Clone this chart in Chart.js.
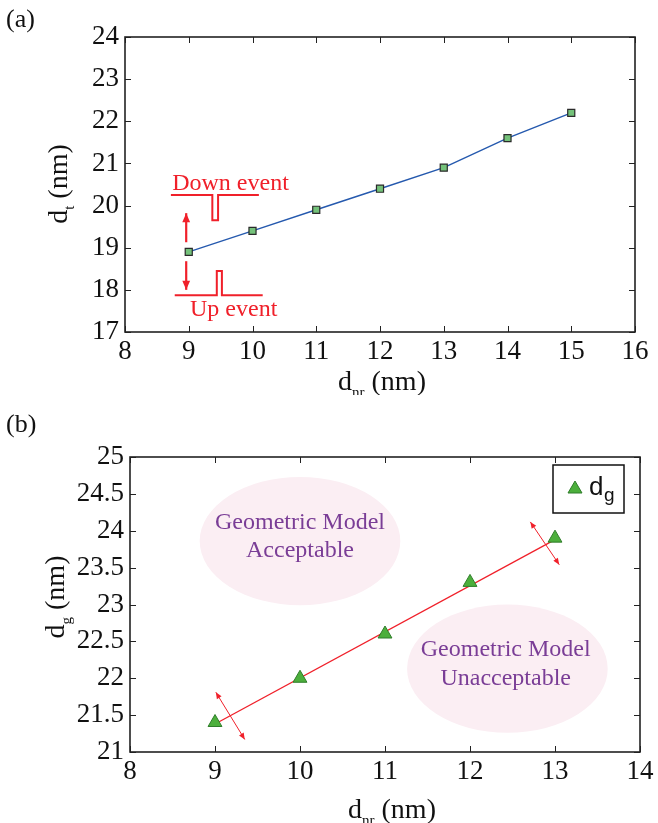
<!DOCTYPE html>
<html>
<head>
<meta charset="utf-8">
<script src="https://cdn.jsdelivr.net/npm/chart.js@4/dist/chart.umd.min.js"></script>
<style>
  body { margin: 0; background: #fff; width: 658px; height: 823px; position: relative; overflow: hidden; }
  .box { position: absolute; left: 0; width: 658px; }
  #boxA { top: 0; height: 395px; }
  #boxB { top: 395px; height: 428px; }
</style>
</head>
<body>
<div class="box" id="boxA"><canvas id="chartA"></canvas></div>
<div class="box" id="boxB"><canvas id="chartB"></canvas></div>
<script>
// panel (a): d_t against d_nr
const nrA = [9, 10, 11, 12, 13, 14, 15];
const dT = [18.9, 19.4, 19.9, 20.4, 20.9, 21.6, 22.2];

// panel (b): d_g against d_nr, with the straight fit through it
const nrB = [9, 10, 11, 12, 13];
const dG = [21.4, 22.0, 22.6, 23.3, 23.9];
const fitX = [9, 13];
const fitY = [21.38, 23.88];

const SERIF = '"Liberation Serif", "Times New Roman", serif';
const SANS = '"Liberation Sans", Arial, sans-serif';
const RED = '#f0202a';
const PURPLE = '#7a3d96';

// draws "d" + subscript + " (nm)" centred on (cx, baseline)
function subTitle(ctx, sub, cx, cy, rot) {
  ctx.save();
  ctx.translate(cx, cy);
  if (rot) ctx.rotate(-Math.PI / 2);
  ctx.fillStyle = '#111';
  ctx.textBaseline = 'alphabetic';
  ctx.font = '28px ' + SERIF;
  const w1 = ctx.measureText('d').width;
  const w3 = ctx.measureText(' (nm)').width;
  ctx.font = '15px ' + SERIF;
  const w2 = ctx.measureText(sub).width;
  let x = -(w1 + w2 + w3) / 2;
  ctx.font = '28px ' + SERIF;
  ctx.fillText('d', x, 0);
  ctx.font = '15px ' + SERIF;
  ctx.fillText(sub, x + w1, 7);
  ctx.font = '28px ' + SERIF;
  ctx.fillText(' (nm)', x + w1 + w2, 0);
  ctx.restore();
}

function arrow(ctx, x1, y1, x2, y2, head, both) {
  const a = Math.atan2(y2 - y1, x2 - x1);
  ctx.beginPath();
  ctx.moveTo(x1, y1);
  ctx.lineTo(x2, y2);
  ctx.stroke();
  const tip = (x, y, ang) => {
    ctx.beginPath();
    ctx.moveTo(x, y);
    ctx.lineTo(x - head * Math.cos(ang - 0.4), y - head * Math.sin(ang - 0.4));
    ctx.lineTo(x - head * Math.cos(ang + 0.4), y - head * Math.sin(ang + 0.4));
    ctx.closePath();
    ctx.fill();
  };
  tip(x2, y2, a);
  if (both) tip(x1, y1, a + Math.PI);
}

// box round the plot and matlab style inward ticks
const frame = {
  id: 'frame',
  afterDatasetsDraw(chart) {
    const { ctx, chartArea: a, scales: { x, y } } = chart;
    ctx.save();
    ctx.strokeStyle = '#222';
    ctx.lineWidth = 1;
    ctx.beginPath();
    x.ticks.forEach(t => {
      const p = Math.round(x.getPixelForValue(t.value)) + 0.5;
      ctx.moveTo(p, a.bottom); ctx.lineTo(p, a.bottom - 6);
      ctx.moveTo(p, a.top); ctx.lineTo(p, a.top + 6);
    });
    y.ticks.forEach(t => {
      const p = Math.round(y.getPixelForValue(t.value)) + 0.5;
      ctx.moveTo(a.left, p); ctx.lineTo(a.left + 6, p);
      ctx.moveTo(a.right, p); ctx.lineTo(a.right - 6, p);
    });
    ctx.stroke();
    ctx.lineWidth = 1.6;
    ctx.strokeRect(a.left, a.top, a.right - a.left, a.bottom - a.top);
    ctx.restore();
  }
};

function axes(xmin, xmax, ymin, ymax, step, yw, xh) {
  return {
    x: {
      type: 'linear', min: xmin, max: xmax,
      ticks: { stepSize: 1, color: '#111', padding: 4, font: { family: SERIF, size: 27 } },
      grid: { display: false, drawTicks: false },
      border: { display: false },
      afterFit: s => { s.height = xh; }
    },
    y: {
      type: 'linear', min: ymin, max: ymax,
      ticks: { stepSize: step, color: '#111', padding: 6, font: { family: SERIF, size: 27 },
        callback: v => String(v) },
      grid: { display: false, drawTicks: false },
      border: { display: false },
      afterFit: s => { s.width = yw; }
    }
  };
}

// ---------- (a) ----------
const decoA = {
  id: 'decoA',
  afterDraw(chart) {
    const { ctx, scales: { x, y } } = chart;
    const X = v => x.getPixelForValue(v), Y = v => y.getPixelForValue(v);
    ctx.save();
    ctx.strokeStyle = RED;
    ctx.fillStyle = RED;
    ctx.lineWidth = 2;
    // down event pulse
    ctx.beginPath();
    ctx.moveTo(X(8.72), Y(20.25)); ctx.lineTo(X(9.37), Y(20.25));
    ctx.lineTo(X(9.37), Y(19.65)); ctx.lineTo(X(9.46), Y(19.65));
    ctx.lineTo(X(9.46), Y(20.25)); ctx.lineTo(X(10.1), Y(20.25));
    ctx.stroke();
    // up event pulse
    ctx.beginPath();
    ctx.moveTo(X(8.78), Y(17.87)); ctx.lineTo(X(9.44), Y(17.87));
    ctx.lineTo(X(9.44), Y(18.45)); ctx.lineTo(X(9.52), Y(18.45));
    ctx.lineTo(X(9.52), Y(17.87)); ctx.lineTo(X(10.16), Y(17.87));
    ctx.stroke();
    ctx.lineWidth = 2.2;
    arrow(ctx, X(8.96), Y(19.13), X(8.96), Y(19.82), 10, false);
    arrow(ctx, X(8.96), Y(18.68), X(8.96), Y(18.0), 10, false);
    ctx.font = '24px ' + SERIF;
    ctx.textBaseline = 'alphabetic';
    ctx.fillText('Down event', X(8.74), Y(20.37));
    ctx.fillText('Up event', X(9.02), Y(17.38));
    ctx.restore();
    // panel label and axis titles
    ctx.save();
    ctx.fillStyle = '#111';
    ctx.font = '26px ' + SERIF;
    ctx.fillText('(a)', 6, 27);
    ctx.restore();
    subTitle(ctx, 't', 67, 184, true);
    subTitle(ctx, 'nr', 382, 390, false);
  }
};

new Chart(document.getElementById('chartA'), {
  type: 'line',
  data: {
    datasets: [{
      label: 'dt',
      data: nrA.map((v, i) => ({ x: v, y: dT[i] })),
      borderColor: '#2559ae',
      borderWidth: 1.4,
      pointStyle: 'rect',
      pointRadius: 5,
      pointBackgroundColor: '#74c27a',
      pointBorderColor: '#2a2a2a',
      pointBorderWidth: 1.2,
      tension: 0
    }]
  },
  options: {
    responsive: true,
    maintainAspectRatio: false,
    animation: false,
    layout: { padding: { top: 37, right: 23, left: 0, bottom: 0 } },
    plugins: { legend: { display: false }, tooltip: { enabled: false } },
    scales: axes(8, 16, 17, 24, 1, 125, 63)
  },
  plugins: [frame, decoA]
});

// ---------- (b) ----------
const decoB = {
  id: 'decoB',
  beforeDatasetsDraw(chart) {
    const { ctx, scales: { x, y } } = chart;
    const X = v => x.getPixelForValue(v), Y = v => y.getPixelForValue(v);
    ctx.save();
    ctx.fillStyle = '#fbeef3';
    [[10.0, 23.86], [12.44, 22.13]].forEach(([cx, cy]) => {
      ctx.beginPath();
      ctx.ellipse(X(cx), Y(cy), X(cx + 1.18) - X(cx), Y(cy) - Y(cy + 0.87), 0, 0, Math.PI * 2);
      ctx.fill();
    });
    ctx.fillStyle = PURPLE;
    ctx.font = '24px ' + SERIF;
    ctx.textAlign = 'center';
    ctx.textBaseline = 'alphabetic';
    ctx.fillText('Geometric Model', X(10.0), Y(24.03));
    ctx.fillText('Acceptable', X(10.0), Y(23.64));
    ctx.fillText('Geometric Model', X(12.42), Y(22.30));
    ctx.fillText('Unacceptable', X(12.42), Y(21.91));
    ctx.restore();
  },
  afterDraw(chart) {
    const { ctx, chartArea: a, scales: { x, y } } = chart;
    const X = v => x.getPixelForValue(v), Y = v => y.getPixelForValue(v);
    ctx.save();
    ctx.strokeStyle = RED;
    ctx.fillStyle = RED;
    ctx.lineWidth = 1;
    arrow(ctx, X(9.01), Y(21.81), X(9.35), Y(21.17), 7, true);
    arrow(ctx, X(12.71), Y(24.12), X(13.05), Y(23.54), 7, true);
    ctx.restore();
    // legend
    ctx.save();
    const lx = a.right - 87, ly = a.top + 8;
    ctx.fillStyle = '#fff';
    ctx.fillRect(lx, ly, 71, 48);
    ctx.strokeStyle = '#111';
    ctx.lineWidth = 1.5;
    ctx.strokeRect(lx, ly, 71, 48);
    ctx.fillStyle = '#4caf3c';
    ctx.strokeStyle = '#2f7d2a';
    ctx.lineWidth = 1;
    ctx.beginPath();
    ctx.moveTo(lx + 22, ly + 16); ctx.lineTo(lx + 29, ly + 28); ctx.lineTo(lx + 15, ly + 28);
    ctx.closePath(); ctx.fill(); ctx.stroke();
    ctx.fillStyle = '#111';
    ctx.font = '26px ' + SANS;
    ctx.fillText('d', lx + 36, ly + 30);
    ctx.font = '19px ' + SANS;
    ctx.fillText('g', lx + 51, ly + 36);
    ctx.restore();
    ctx.save();
    ctx.fillStyle = '#111';
    ctx.font = '26px ' + SERIF;
    ctx.fillText('(b)', 6, 37);
    ctx.restore();
    subTitle(ctx, 'g', 64, 202, true);
    subTitle(ctx, 'nr', 392, 423, false);
  }
};

new Chart(document.getElementById('chartB'), {
  type: 'line',
  data: {
    datasets: [{
      label: 'fit',
      data: fitX.map((v, i) => ({ x: v, y: fitY[i] })),
      borderColor: RED,
      borderWidth: 1.3,
      pointRadius: 0,
      order: 2
    }, {
      label: 'dg',
      data: nrB.map((v, i) => ({ x: v, y: dG[i] })),
      showLine: false,
      pointStyle: 'triangle',
      pointRadius: 8,
      pointBackgroundColor: '#4caf3c',
      pointBorderColor: '#2f7d2a',
      pointBorderWidth: 1,
      order: 1
    }]
  },
  options: {
    responsive: true,
    maintainAspectRatio: false,
    animation: false,
    layout: { padding: { top: 62, right: 18, left: 0, bottom: 0 } },
    plugins: { legend: { display: false }, tooltip: { enabled: false } },
    scales: axes(8, 14, 21, 25, 0.5, 130, 71)
  },
  plugins: [frame, decoB]
});
</script>
</body>
</html>
